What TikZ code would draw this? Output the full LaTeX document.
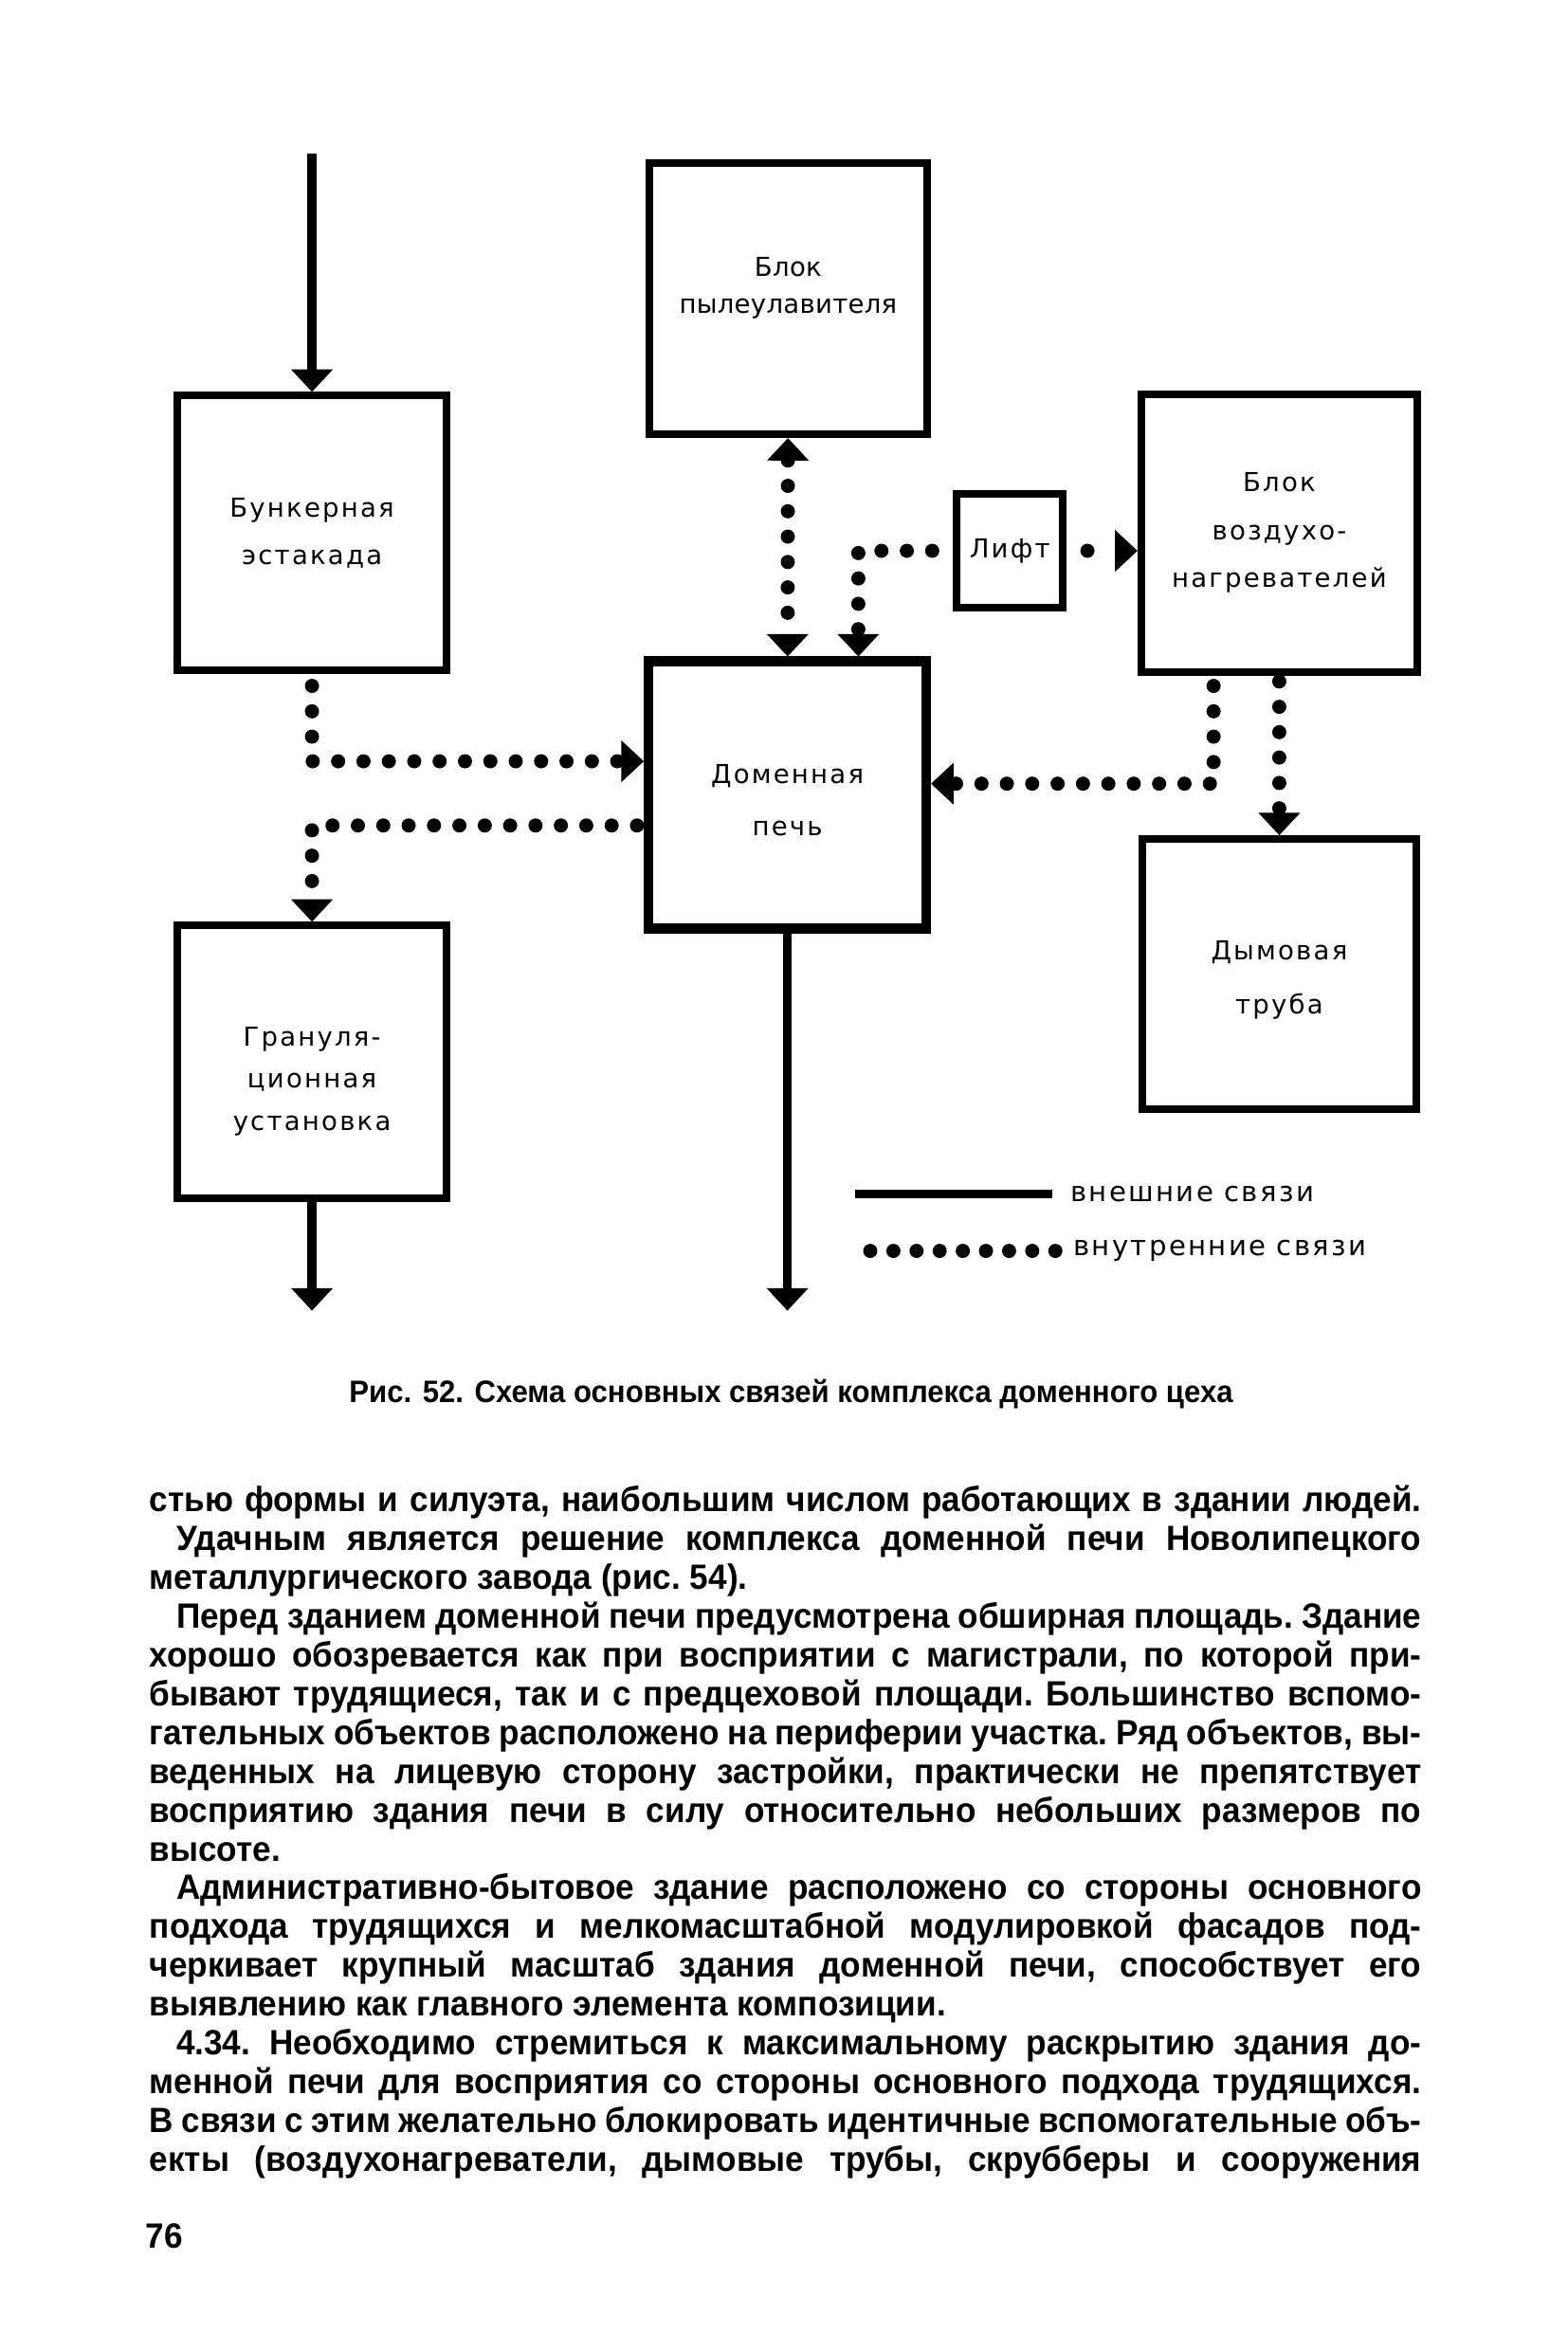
\documentclass[tikz,border=0pt]{standalone}
\usepackage{fontspec}
\setmainfont{Liberation Sans}
\newfontfamily\blockfont[LetterSpace=8]{DejaVu Sans}
\newfontfamily\pagefont[FakeStretch=0.95]{Liberation Sans}
\usetikzlibrary{arrows.meta}

\begin{document}
\begin{tikzpicture}[x=1pt,y=-1pt,
    >={Triangle[width=28pt,length=15pt,line width=0pt]},
    box node/.style={draw,line width=5pt,minimum width=180pt,minimum height=184pt,inner sep=0pt},
    block text/.style={inner sep=0pt,align=center,font=\blockfont\fontsize{17.5}{32}\selectfont},
    outer link/.style={->,line width=6pt},
    dot line/.style={line width=9.5pt,line cap=round,dash pattern=on 0pt off 17pt},
    inner link/.style={dot line,->},
    legend text/.style={anchor=west,inner sep=0pt,font=\blockfont\fontsize{18.5}{20}\selectfont},
    page text/.style={inner sep=0pt,font=\pagefont\bfseries\fontsize{23.5}{26}\selectfont}]

  \fill[white] (0,0) rectangle (1050,1575);
  \useasboundingbox (0,0) rectangle (1050,1575);

  % blocks
  \node[box node] (bunker) at (209,357) {};
  \node[box node,minimum width=186pt,minimum height=182pt] (dust) at (528,200) {};
  \node[box node,minimum width=71pt,minimum height=76pt] (lift) at (676.5,369) {};
  \node[box node,minimum width=185pt,minimum height=186pt] (heater) at (857,357) {};
  \node[box node,line width=6.5pt,minimum width=186pt,minimum height=179pt] (furnace) at (527.5,532.5) {};
  \node[box node,minimum width=184pt,minimum height=181pt] (chimney) at (857,652.5) {};
  \node[box node,minimum height=183pt] (gran) at (209,711.5) {};

  % block labels
  \node[block text] (bunker text) at (bunker.center) {Бункерная\\эстакада};
  \node[block text,font={\blockfont\addfontfeature{LetterSpace=1}\fontsize{17.5}{32}\selectfont}]
    (dust text) at ([yshift=7pt]dust.center) {Блок\\[-7pt]пылеулавителя};
  \node[block text] (lift text) at (lift.center) {Лифт};
  \node[block text] (heater text) at (heater.center) {Блок\\воздухо-\\нагревателей};
  \node[block text] (furnace text) at ([yshift=-3.5pt]furnace.center) {Доменная\\[3pt]печь};
  \node[block text] (chimney text) at ([yshift=-4pt]chimney.center) {Дымовая\\[4pt]труба};
  \node[block text] (gran text) at ([yshift=-13pt]gran.center) {Грануля-\\[-4pt]ционная\\[-4pt]установка};

  % external links
  \coordinate (feed) at (209,103);
  \coordinate (slag) at (209,878);
  \coordinate (iron) at (527.5,878);
  \draw[outer link] (feed) -- (bunker);
  \draw[outer link] (gran) -- (slag);
  \draw[outer link] (furnace) -- (iron);

  % internal links
  \draw[inner link,<->] (dust) -- (furnace);
  \draw[inner link,shorten <=14pt] (lift.west) -| ([xshift=47.5pt]furnace.north);
  \draw[inner link,shorten <=14pt,dash pattern=on 0pt off 30pt] (lift.east) -- (lift.east -| heater.west);
  \draw[inner link,shorten <=8pt] (bunker.south) |- ([yshift=22.5pt]furnace.west);
  \draw[inner link,shorten <=4.5pt] ([yshift=-20.5pt]furnace.west) -| (gran.north);
  \draw[inner link,shorten <=7pt] ([xshift=-44pt]heater.south) |- ([yshift=7.5pt]furnace.east);
  \draw[inner link,shorten <=4pt] (heater) -- (chimney);

  % legend
  \coordinate (solid from) at (573,800);
  \coordinate (solid to) at (705,800);
  \draw[line width=6pt] (solid from) -- (solid to);
  \node[legend text] (outer label) at (717,800) {внешние связи};
  \coordinate (dots from) at (583,838);
  \coordinate (dots to) at (707,838);
  \draw[dot line,dash pattern=on 0pt off 15.5pt] (dots from) -- (dots to);
  \node[legend text] (inner label) at (719,838) {внутренние связи};

  % caption and page
  \node[page text,font=\pagefont\bfseries\fontsize{20.8}{24}\selectfont] (caption) at (530,934)
    {Рис. 52. Схема основных связей комплекса доменного цеха};
  \node[page text,anchor=north west,text width=852pt,align=justify] (body) at (100,995) {%
    \frenchspacing\tolerance=10000\hyphenpenalty=10000\exhyphenpenalty=10000
    стью формы и силуэта, наибольшим числом работающих в здании людей.\linebreak
    \hspace*{18pt}Удачным является решение комплекса доменной печи Новолипецкого\linebreak
    металлургического завода (рис. 54).\newline
    \hspace*{18pt}Перед зданием доменной печи предусмотрена обширная площадь. Здание\linebreak
    хорошо обозревается как при восприятии с магистрали, по которой при-\linebreak
    бывают трудящиеся, так и с предцеховой площади. Большинство вспомо-\linebreak
    гательных объектов расположено на периферии участка. Ряд объектов, вы-\linebreak
    веденных на лицевую сторону застройки, практически не препятствует\linebreak
    восприятию здания печи в силу относительно небольших размеров по\linebreak
    высоте.\newline
    \hspace*{18pt}Административно-бытовое здание расположено со стороны основного\linebreak
    подхода трудящихся и мелкомасштабной модулировкой фасадов под-\linebreak
    черкивает крупный масштаб здания доменной печи, способствует его\linebreak
    выявлению как главного элемента композиции.\newline
    \hspace*{18pt}4.34. Необходимо стремиться к максимальному раскрытию здания до-\linebreak
    менной печи для восприятия со стороны основного подхода трудящихся.\linebreak
    В связи с этим желательно блокировать идентичные вспомогательные объ-\linebreak
    екты (воздухонагреватели, дымовые трубы, скрубберы и сооружения\linebreak};
  \node[page text] (page number) at (110,1498) {76};

\end{tikzpicture}
\end{document}
